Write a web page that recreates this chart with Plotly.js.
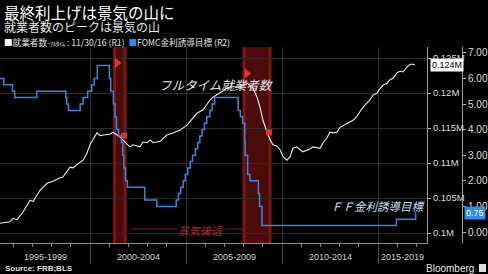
<!DOCTYPE html>
<html><head><meta charset="utf-8">
<script src="https://cdn.plot.ly/plotly-3.0.1.min.js"></script>
<style>html,body{margin:0;padding:0;background:#000;}#chart{width:488px;height:274px;}</style>
</head><body><div id="chart"></div>
<script>
// Full-time employed (R1), decimal year / value in "M" as labelled
const empX = [1995.31,1995.83,1995.99,1996.20,1996.51,1996.88,1997.03,1997.40,1997.76,1998.07,1998.44,1998.59,1998.96,1999.11,1999.48,1999.64,1999.84,2000.00,2000.16,2000.36,2000.52,2000.68,2001.04,2001.20,2001.41,2001.56,2001.93,2002.08,2002.24,2002.60,2002.76,2002.97,2003.13,2003.28,2003.65,2004.01,2004.32,2004.69,2005.05,2005.21,2005.36,2005.57,2005.89,2006.25,2006.41,2006.77,2007.14,2007.45,2007.81,2007.97,2008.18,2008.49,2008.70,2008.85,2009.01,2009.22,2009.38,2009.53,2009.74,2009.90,2010.05,2010.26,2010.42,2010.57,2010.78,2010.94,2011.09,2011.46,2011.61,2011.98,2012.14,2012.34,2012.50,2012.66,2012.86,2013.02,2013.39,2013.54,2013.70,2013.91,2014.06,2014.22,2014.43,2014.58,2014.74,2014.95,2015.10,2015.26,2015.47,2015.63,2015.78,2015.99,2016.15,2016.30,2016.51,2016.67,2016.82,2016.91];
const empVal = [0.1014,0.1016,0.1021,0.1019,0.1030,0.1047,0.1045,0.1061,0.1071,0.1074,0.1079,0.1080,0.1094,0.1093,0.1101,0.1104,0.1114,0.1126,0.1134,0.1143,0.1139,0.1140,0.1141,0.1144,0.1140,0.1137,0.1127,0.1123,0.1126,0.1123,0.1130,0.1129,0.1133,0.1129,0.1131,0.1140,0.1143,0.1147,0.1154,0.1159,0.1164,0.1171,0.1176,0.1190,0.1194,0.1200,0.1207,0.1209,0.1209,0.1211,0.1214,0.1207,0.1194,0.1180,0.1161,0.1144,0.1133,0.1126,0.1124,0.1119,0.1109,0.1104,0.1109,0.1121,0.1123,0.1119,0.1116,0.1120,0.1123,0.1121,0.1129,0.1136,0.1144,0.1143,0.1144,0.1151,0.1156,0.1159,0.1161,0.1167,0.1173,0.1180,0.1186,0.1190,0.1197,0.1200,0.1206,0.1211,0.1214,0.1219,0.1221,0.1229,0.1231,0.1230,0.1237,0.1241,0.1241,0.1240];

// FOMC target rate (R2), step changes
const ffX = [1995.31,1995.51,1995.96,1996.08,1997.23,1998.74,1998.79,1998.88,1999.49,1999.64,1999.88,2000.09,2000.22,2000.38,2001.01,2001.08,2001.22,2001.30,2001.38,2001.49,2001.64,2001.71,2001.76,2001.85,2001.95,2002.85,2003.48,2004.49,2004.61,2004.72,2004.86,2004.96,2005.09,2005.22,2005.34,2005.49,2005.61,2005.72,2005.84,2005.96,2006.08,2006.24,2006.36,2006.49,2007.72,2007.83,2007.95,2008.06,2008.08,2008.21,2008.33,2008.77,2008.83,2008.96,2015.96,2016.96,2016.99];
const ffVal = [6.00,5.75,5.50,5.25,5.50,5.25,5.00,4.75,5.00,5.25,5.50,5.75,6.00,6.50,6.00,5.50,5.00,4.50,4.00,3.75,3.50,3.00,2.50,2.00,1.75,1.25,1.00,1.25,1.50,1.75,2.00,2.25,2.50,2.75,3.00,3.25,3.50,3.75,4.00,4.25,4.50,4.75,5.00,5.25,4.75,4.50,4.25,3.50,3.00,2.25,2.00,1.50,1.00,0.25,0.50,0.75,0.75];

// Recessions
const recStart = [2001.2, 2007.95];
const recEnd = [2001.9, 2009.45];
const flagTopY = [0.1243, 0.1228];
const flagLowY = [0.1139, 0.1144];

// Axis labels
const periodEdges = [1995, 2000, 2005, 2010, 2015, 2020];
const periodLabels = ['1995-1999','2000-2004','2005-2009','2010-2014','2015-2019'];
const r1Ticks = [0.1,0.105,0.11,0.115,0.12,0.125];
const r1TickText = ['0.1M','0.105M','0.11M','0.115M','0.12M','0.125M'];
const r2Ticks = [0,1,2,3,4,5,6,7];

const W = 488, H = 274, mT = 47, mB = 31, mR = 26;
const paperW = W - mR;           // 462
const plotRight = 427;           // pixel of first right axis
const xDomEnd = plotRight / paperW;
const xRange = [1995.3125, 2017.552];
const pxPerYr = plotRight / (xRange[1] - xRange[0]);
const plotH = H - mT - mB;
const py = p => (H - mB - p) / plotH;  // pixel y -> paper y
const pxp = p => p / paperW;           // pixel x -> paper x

const FONT = 'Liberation Sans, Arial, sans-serif';
const JP = 'Noto Sans CJK JP, sans-serif';

const traces = [
  {x: ffX, y: ffVal, yaxis: 'y2', type: 'scatter', mode: 'lines', line: {color: '#3f83d6', width: 1.5, shape: 'hv'}, hoverinfo: 'skip'},
  {x: empX, y: empVal, yaxis: 'y', type: 'scatter', mode: 'lines', line: {color: '#ececec', width: 1.1}, hoverinfo: 'skip'},
  {x: recStart.map(v => v + 4 / pxPerYr), y: flagTopY, yaxis: 'y', mode: 'markers', marker: {symbol: 'triangle-right', size: 9, color: '#e2382c'}, hoverinfo: 'skip'},
  {x: recEnd.map(v => v - 2.5 / pxPerYr), y: flagLowY, yaxis: 'y', mode: 'markers', marker: {symbol: 'square', size: 6, color: '#d8342a'}, hoverinfo: 'skip'}
];

const shapes = [];
recStart.forEach((s, i) => {
  const e = recEnd[i];
  shapes.push({type: 'rect', xref: 'x', yref: 'paper', x0: s, x1: e, y0: 0, y1: 1, fillcolor: '#4a0b0b', line: {width: 0}, layer: 'below'});
  const inset = 3 / pxPerYr;
  shapes.push({type: 'rect', xref: 'x', yref: 'paper', x0: s, x1: s + inset, y0: 0, y1: 1, fillcolor: '#7c1616', line: {width: 0}, layer: 'below'});
  shapes.push({type: 'rect', xref: 'x', yref: 'paper', x0: e - inset, x1: e, y0: 0, y1: 1, fillcolor: '#7c1616', line: {width: 0}, layer: 'below'});
});
// 景気後退 guide lines
shapes.push({type: 'line', xref: 'x', yref: 'paper', x0: recEnd[0] + 5 / pxPerYr, x1: 2004.53, y0: py(229), y1: py(229), line: {color: '#7a1e1e', width: 1}});
shapes.push({type: 'line', xref: 'x', yref: 'paper', x0: 2007.03, x1: recStart[1], y0: py(229), y1: py(229), line: {color: '#7a1e1e', width: 1}});
// Bloomberg icon
shapes.push({type: 'rect', xref: 'paper', yref: 'paper', x0: pxp(479), x1: pxp(486), y0: py(272), y1: py(264), fillcolor: '#dddddd', line: {width: 0}});

const annotations = [];
// Period labels centred on visible part of each period
periodLabels.forEach((t, i) => {
  const a = Math.max(periodEdges[i], xRange[0]);
  const b = Math.min(periodEdges[i + 1], xRange[1]);
  annotations.push({x: (a + b) / 2, xref: 'x', y: py(257), yref: 'paper', text: t, showarrow: false, font: {family: FONT, size: 9, color: '#d0d0d0'}, xanchor: 'center', yanchor: 'middle'});
});
annotations.push(
  {x: pxp(2), y: py(11.5), xref: 'paper', yref: 'paper', xanchor: 'left', yanchor: 'middle', showarrow: false, text: '最終利上げは景気の山に', font: {family: JP, size: 15.5, color: '#ffffff'}},
  {x: pxp(2), y: py(26.5), xref: 'paper', yref: 'paper', xanchor: 'left', yanchor: 'middle', showarrow: false, text: '就業者数のピークは景気の山', font: {family: JP, size: 12, color: '#e6e6e6'}},
  {x: pxp(2), y: py(42), xref: 'paper', yref: 'paper', xanchor: 'left', yanchor: 'middle', showarrow: false,
   text: '<span style="color:#ffffff">■</span>就業者数-<span style="font-size:6px">ﾌﾙﾀｲﾑ</span> : 11/30/16 (R1)  <span style="color:#2f8de4">■</span>FOMC金利誘導目標 (R2)',
   font: {family: JP, size: 8.6, color: '#e0e0e0'}},
  {x: 2006.61, xref: 'x', y: py(84), yref: 'paper', text: '<i>フルタイム就業者数</i>', showarrow: false, font: {family: JP, size: 12.5, color: '#e4e4e4'}, xanchor: 'center', yanchor: 'middle'},
  {x: 1, xref: 'x domain', y: py(206), yref: 'paper', text: '<i>ＦＦ金利誘導目標</i>', showarrow: false, font: {family: JP, size: 11.5, color: '#c9dcf2'}, xanchor: 'right', yanchor: 'middle'},
  {x: 2005.78, xref: 'x', y: py(230), yref: 'paper', text: '<i>景気後退</i>', showarrow: false, font: {family: JP, size: 11, color: '#a83232'}, xanchor: 'center', yanchor: 'middle'},
  {x: pxp(430), xref: 'paper', y: empVal[empVal.length - 1], yref: 'y', text: empVal[empVal.length - 1].toFixed(3) + 'M', showarrow: false, bgcolor: '#ffffff', borderpad: 1, font: {family: FONT, size: 9, color: '#000'}, xanchor: 'left', yanchor: 'middle'},
  {x: pxp(464), xref: 'paper', y: ffVal[ffVal.length - 1], yref: 'y2', text: ffVal[ffVal.length - 1].toFixed(2), showarrow: false, bgcolor: '#2f8de4', borderpad: 1, font: {family: FONT, size: 9, color: '#ffffff'}, xanchor: 'left', yanchor: 'middle'},
  {x: pxp(3), y: py(268), xref: 'paper', yref: 'paper', xanchor: 'left', yanchor: 'middle', showarrow: false, text: '<b>Source: FRB;BLS</b>', font: {family: FONT, size: 8, color: '#dddddd'}},
  {x: pxp(476), y: py(268), xref: 'paper', yref: 'paper', xanchor: 'right', yanchor: 'middle', showarrow: false, text: 'Bloomberg', font: {family: FONT, size: 10, color: '#e6e6e6'}}
);

const layout = {
  width: W, height: H,
  margin: {l: 0, r: mR, t: mT, b: mB, pad: 0},
  paper_bgcolor: '#000', plot_bgcolor: '#000',
  showlegend: false,
  xaxis: {
    domain: [0, xDomEnd], range: xRange, type: 'linear',
    tickmode: 'array', tickvals: periodEdges, ticktext: periodEdges.map(() => ''),
    ticks: 'outside', ticklen: 20, tickcolor: '#4a4a4a', tickwidth: 1,
    showgrid: true, gridcolor: '#2c2c2c', gridwidth: 1,
    showline: true, linecolor: '#8a8a8a', linewidth: 1,
    zeroline: false,
    minor: {dtick: 1, tick0: 1995, ticks: 'outside', ticklen: 3, tickcolor: '#8a8a8a', showgrid: false}
  },
  yaxis: {
    range: [0.1 - 10 / 7000, 0.1 + 186 / 7000], side: 'right', anchor: 'x',
    tickmode: 'array', tickvals: r1Ticks, ticktext: r1TickText,
    ticks: 'outside', ticklen: 3, tickcolor: '#bbbbbb',
    showgrid: true, gridcolor: '#2c2c2c', gridwidth: 1,
    showline: true, linecolor: '#9a9a9a', linewidth: 1, zeroline: false,
    tickfont: {family: FONT, size: 9.5, color: '#dddddd'}
  },
  yaxis2: {
    range: [-(243 - 232) / 25.6, (232 - 47) / 25.6], overlaying: 'y', side: 'right', anchor: 'free', position: 1,
    tickmode: 'array', tickvals: r2Ticks, tickformat: '.2f',
    ticks: 'outside', ticklen: 3, tickcolor: '#bbbbbb',
    showgrid: false, showline: true, linecolor: '#9a9a9a', linewidth: 1, zeroline: false,
    tickfont: {family: FONT, size: 10, color: '#dddddd'}
  },
  shapes: shapes,
  annotations: annotations
};

Plotly.newPlot('chart', traces, layout, {staticPlot: true, displayModeBar: false});
</script>
</body></html>
